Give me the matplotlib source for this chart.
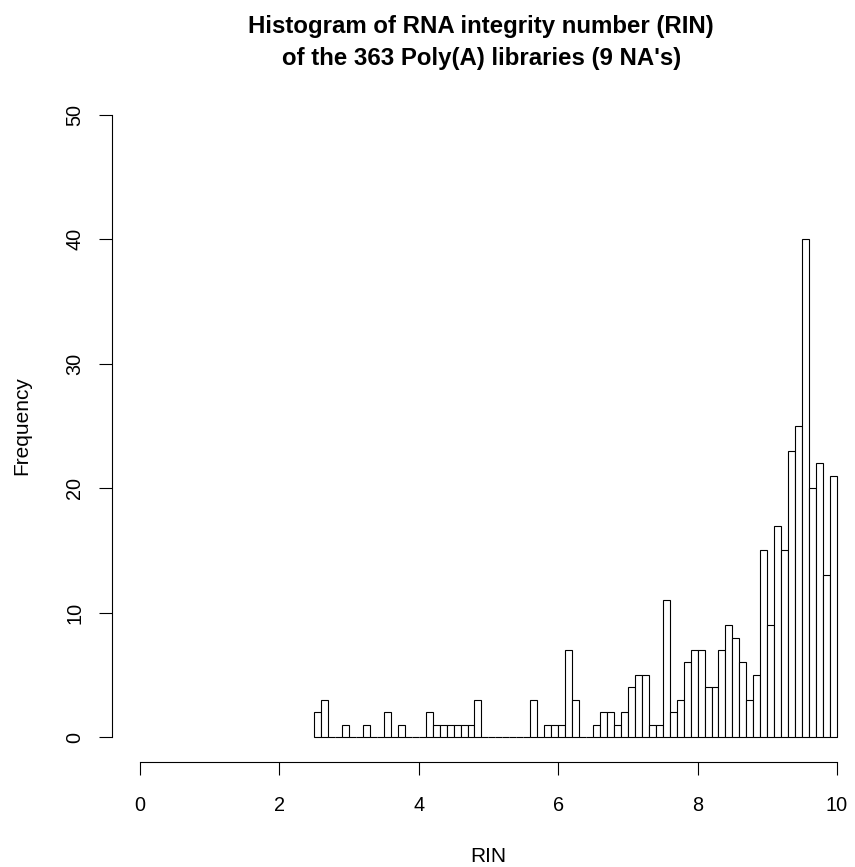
import matplotlib.pyplot as plt
import numpy as np

# RIN histogram, bins of width 0.1 from 2.5 to 10
bin_width = 0.1
bin_left = np.round(np.arange(25, 100) / 10, 1)
counts = [2, 3, 0, 0, 1, 0, 0, 1, 0, 0,   # 2.5 - 3.4
          2, 0, 1, 0, 0, 0, 2, 1, 1, 1,   # 3.5 - 4.4
          1, 1, 1, 3, 0, 0, 0, 0, 0, 0,   # 4.5 - 5.4
          0, 3, 0, 1, 1, 1, 7, 3, 0, 0,   # 5.5 - 6.4
          1, 2, 2, 1, 2, 4, 5, 5, 1, 1,   # 6.5 - 7.4
          11, 2, 3, 6, 7, 7, 4, 4, 7, 9,  # 7.5 - 8.4
          8, 6, 3, 5, 15, 9, 17, 15, 23, 25,  # 8.5 - 9.4
          40, 20, 22, 13, 21]             # 9.5 - 9.9

x_ticks = [0, 2, 4, 6, 8, 10]
y_ticks = [0, 10, 20, 30, 40, 50]

plt.rcParams['font.family'] = ['Liberation Sans', 'DejaVu Sans']

W, H = 855, 867
fig = plt.figure(figsize=(W / 100, H / 100), dpi=100)
ax = fig.add_axes([112 / W, 105 / H, 743 / W, 672 / H])

ax.bar(bin_left, counts, width=bin_width, align='edge',
       facecolor='white', edgecolor='black', linewidth=0.8)

ax.set_xlim(-0.4, (W - 140) / 69.7)
ax.set_ylim(-2, 52)

# R style axes
for s in ['top', 'right']:
    ax.spines[s].set_visible(False)
ax.spines['left'].set_bounds(0, 50)
ax.spines['bottom'].set_bounds(0, 10)
ax.spines['left'].set_linewidth(0.8)
ax.spines['bottom'].set_linewidth(0.8)
ax.set_xticks(x_ticks)
ax.set_yticks(y_ticks)
ax.tick_params(length=9.5, width=0.8, labelsize=14.3)
ax.tick_params(axis='x', pad=15)
ax.tick_params(axis='y', pad=10.5)
plt.setp(ax.get_yticklabels(), rotation=90, va='center')

# labels and title placed like R's margins
fig.text(488 / W, 1 - 862 / H, 'RIN', fontsize=15, ha='center', va='baseline')
fig.text(22 / W, 1 - 426 / H, 'Frequency', fontsize=15, rotation=90,
         ha='center', va='center')
fig.text(481 / W, 1 - 33 / H, 'Histogram of RNA integrity number (RIN)',
         fontsize=17.3, fontweight='bold', ha='center', va='baseline')
fig.text(481.5 / W, 1 - 65 / H, 'of the 363 Poly(A) libraries (9 NA\'s)',
         fontsize=17.3, fontweight='bold', ha='center', va='baseline')

plt.savefig('out.png', dpi=100)
